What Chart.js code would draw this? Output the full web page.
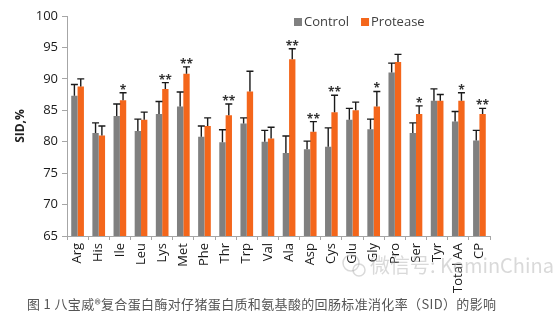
<!DOCTYPE html>
<html>
<head>
<meta charset="utf-8">
<script src="https://cdn.jsdelivr.net/npm/chart.js@4"></script>
<style>
  html, body { margin: 0; padding: 0; background: #fff; }
  #wrap { width: 553px; height: 332px; }
</style>
</head>
<body>
<div id="wrap"><canvas id="myChart" width="553" height="332"></canvas></div>
<script>
      // data
      const aminoAcids = ['Arg', 'His', 'Ile', 'Leu', 'Lys', 'Met', 'Phe', 'Thr', 'Trp', 'Val',
        'Ala', 'Asp', 'Cys', 'Glu', 'Gly', 'Pro', 'Ser', 'Tyr', 'Total AA', 'CP'];
      const control = [87.3, 81.4, 84.1, 81.7, 84.4, 85.6, 80.8, 79.9, 82.9, 80.0,
        78.2, 78.8, 79.2, 83.5, 82.0, 91.0, 81.4, 86.5, 83.2, 80.2];
      const controlErr = [1.8, 1.6, 1.9, 1.9, 2.0, 2.3, 1.7, 2.0, 0.9, 1.8,
        2.7, 1.3, 3.0, 1.8, 1.6, 1.5, 1.6, 1.9, 1.6, 1.6];
      const protease = [88.8, 81.0, 86.6, 83.5, 88.4, 90.8, 82.5, 84.2, 88.0, 80.5,
        93.1, 81.6, 84.7, 85.0, 85.6, 92.7, 84.4, 86.5, 86.5, 84.4];
      const proteaseErr = [1.2, 1.5, 1.2, 1.2, 1.0, 1.1, 1.3, 1.8, 3.2, 1.8,
        1.7, 1.6, 2.7, 1.3, 2.4, 1.2, 1.3, 1.0, 1.3, 0.9];
      const stars = ['', '', '*', '', '**', '**', '', '**', '', '',
        '**', '**', '**', '', '*', '', '*', '', '*', '**'];
      const yTicks = [65, 70, 75, 80, 85, 90, 95, 100];

      const caption = '图 1 八宝威®复合蛋白酶对仔猪蛋白质和氨基酸的回肠标准消化率（SID）的影响';
      const watermark = '微信号: KeminChina';

      const errors = [controlErr, proteaseErr];
      const font = "'Open Sans', 'DejaVu Sans', sans-serif";

      const data = {
        labels: aminoAcids,
        datasets: [{
          label: 'Control',
          data: control,
          backgroundColor: '#808080',
          barPercentage: 1,
          categoryPercentage: 0.6
        }, {
          label: 'Protease',
          data: protease,
          backgroundColor: '#F4661B',
          barPercentage: 1,
          categoryPercentage: 0.6
        }]
      };

      // error bars, stars, legend, caption
      const extras = {
        id: 'extras',
        afterDatasetsDraw: (chart) => {
          const ctx = chart.ctx;
          const y = chart.scales.y;
          const area = chart.chartArea;
          ctx.save();
          // error bars (upper only)
          ctx.strokeStyle = '#1a1a1a';
          ctx.lineWidth = 1.4;
          chart.data.datasets.forEach((ds, i) => {
            chart.getDatasetMeta(i).data.forEach((bar, j) => {
              const top = y.getPixelForValue(ds.data[j] + errors[i][j]);
              ctx.beginPath();
              ctx.moveTo(bar.x, bar.y);
              ctx.lineTo(bar.x, top);
              ctx.moveTo(bar.x - 3.5, top);
              ctx.lineTo(bar.x + 3.5, top);
              ctx.stroke();
            });
          });
          // significance stars over protease bars
          ctx.fillStyle = '#333';
          ctx.font = 'bold 12px ' + font;
          ctx.textAlign = 'center';
          ctx.textBaseline = 'alphabetic';
          chart.getDatasetMeta(1).data.forEach((bar, j) => {
            if (!stars[j]) return;
            const top = y.getPixelForValue(protease[j] + proteaseErr[j]);
            ctx.fillText(stars[j], bar.x, top + 1);
          });
          // legend inside plot
          ctx.font = '13px ' + font;
          ctx.textAlign = 'left';
          ctx.textBaseline = 'middle';
          let lx = area.left + 227;
          const ly = area.top + 6;
          chart.data.datasets.forEach((ds) => {
            ctx.fillStyle = ds.backgroundColor;
            ctx.fillRect(lx, ly - 4, 8, 8);
            ctx.fillStyle = '#404040';
            ctx.fillText(ds.label, lx + 10, ly);
            lx += 10 + ctx.measureText(ds.label).width + 12;
          });
          ctx.restore();
        },
        afterDraw: (chart) => {
          const ctx = chart.ctx;
          ctx.save();
          // faint watermark
          ctx.fillStyle = 'rgba(170,170,170,0.45)';
          ctx.font = "20px 'Noto Sans CJK SC', sans-serif";
          ctx.textBaseline = 'middle';
          ctx.textAlign = 'left';
          ctx.fillText(watermark, 370, 265);
          ctx.strokeStyle = 'rgba(170,170,170,0.45)';
          ctx.lineWidth = 1.5;
          ctx.beginPath();
          ctx.arc(351, 263, 8, 0, Math.PI * 2);
          ctx.stroke();
          ctx.beginPath();
          ctx.arc(359, 270, 6, 0, Math.PI * 2);
          ctx.stroke();
          // caption
          ctx.fillStyle = '#555';
          ctx.font = "13px 'Noto Sans CJK SC', sans-serif";
          ctx.letterSpacing = '0.35px';
          ctx.fillText(caption, 27, 304);
          ctx.restore();
        }
      };

      const config = {
        type: 'bar',
        data: data,
        options: {
          responsive: false,
          animation: false,
          layout: {
            padding: { top: 16, right: 63, bottom: 36, left: 0 }
          },
          plugins: {
            legend: { display: false },
            tooltip: { enabled: false }
          },
          scales: {
            x: {
              afterFit: (s) => { s.height = 60; },
              grid: {
                drawOnChartArea: false,
                tickLength: 4,
                color: '#a6a6a6'
              },
              border: { color: '#a6a6a6' },
              ticks: {
                minRotation: 90,
                maxRotation: 90,
                autoSkip: false,
                padding: 3,
                color: '#1a1a1a',
                font: { family: font, size: 13 }
              }
            },
            y: {
              min: 65,
              max: 100,
              afterFit: (s) => { s.width = 67; },
              afterBuildTicks: (s) => { s.ticks = yTicks.map(v => ({ value: v })); },
              grid: {
                drawOnChartArea: false,
                tickLength: 5,
                color: '#a6a6a6'
              },
              border: { color: '#a6a6a6' },
              ticks: {
                padding: 4,
                color: '#1a1a1a',
                font: { family: font, size: 13 }
              },
              title: {
                display: true,
                text: 'SID,%',
                color: '#222',
                padding: { top: 13, bottom: 0 },
                font: { family: font, size: 12, weight: 'bold' }
              }
            }
          }
        },
        plugins: [extras]
      };

      const myChart = new Chart(document.getElementById('myChart'), config);
</script>
</body>
</html>
